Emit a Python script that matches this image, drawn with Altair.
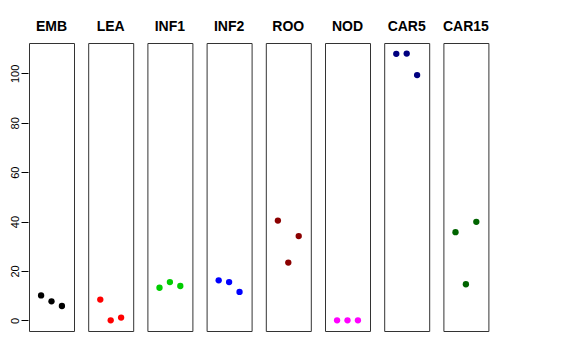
import altair as alt
import pandas as pd

categories = ["EMB", "LEA", "INF1", "INF2", "ROO", "NOD", "CAR5", "CAR15"]
colors = ["#000000", "#FF0000", "#00CD00", "#0000FF", "#8B0000", "#FF00FF", "#000080", "#006400"]
positions = [1, 2, 3]
values = {
    "EMB": [10.1, 7.7, 5.8],
    "LEA": [8.4, 0.0, 1.1],
    "INF1": [13.2, 15.5, 13.9],
    "INF2": [16.2, 15.5, 11.5],
    "ROO": [40.4, 23.4, 34.1],
    "NOD": [0.0, 0.0, 0.0],
    "CAR5": [107.9, 108.0, 99.3],
    "CAR15": [35.7, 14.6, 39.9],
}
y_ticks = [0, 20, 40, 60, 80, 100]

rows = []
for c in categories:
    for p, v in zip(positions, values[c]):
        rows.append({"group": c, "pos": p, "value": v})
df = pd.DataFrame(rows)

FONT = "Liberation Sans"

base = alt.Chart(df).mark_circle(size=40, opacity=1).encode(
    x=alt.X("pos:Q", scale=alt.Scale(domain=[-0.16, 4.16], nice=False, zero=False), axis=None),
    y=alt.Y("value:Q", scale=alt.Scale(domain=[-4.32, 112.3], nice=False, zero=False),
            axis=alt.Axis(values=y_ticks, title=None, labelAngle=270, labelAlign="center",
                          labelBaseline="bottom", tickSize=7, tickColor="#000000", tickWidth=1,
                          domain=False, grid=False, labelFont=FONT, labelFontSize=11,
                          labelColor="#000000", labelPadding=1)),
    color=alt.Color("group:N", scale=alt.Scale(domain=categories, range=colors), legend=None),
).properties(width=45, height=288)

chart = base.facet(
    column=alt.Column("group:N", sort=categories,
                      header=alt.Header(title=None, labelFont=FONT, labelFontSize=14,
                                        labelFontWeight="bold", labelColor="#000000",
                                        labelPadding=8)),
    spacing=12.2,
).properties(
    padding={"top": 12, "left": 0, "right": 5, "bottom": 5}
).configure(
    background="white",
    view=alt.ViewConfig(stroke="#333333", strokeWidth=1),
)

chart.save("out.html", embed_options={"renderer": "svg", "actions": False})
